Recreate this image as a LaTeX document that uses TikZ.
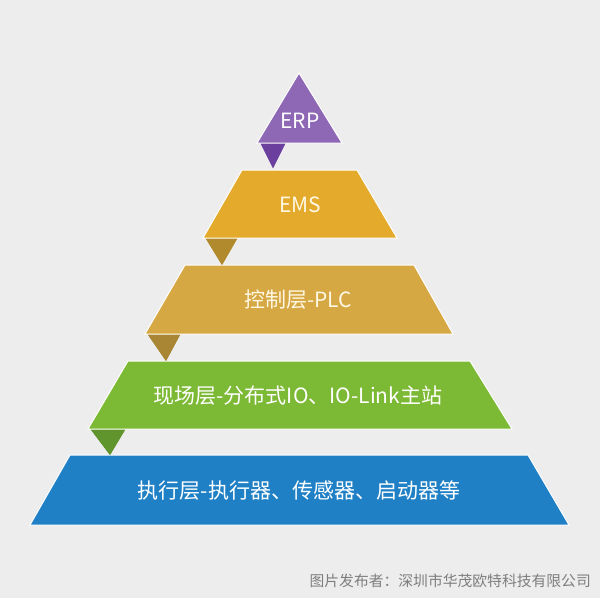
\documentclass[tikz,border=0pt]{standalone}
\usepackage{fontspec}
\newfontfamily\cjk{Noto Sans CJK SC}
\definecolor{bg}{HTML}{EDEDED}
\definecolor{erpc}{HTML}{8E67B5}
\definecolor{erpf}{HTML}{6A3F9E}
\definecolor{emsc}{HTML}{E3AA2C}
\definecolor{emsf}{HTML}{B08A2C}
\definecolor{plcc}{HTML}{D6A843}
\definecolor{plcf}{HTML}{A98633}
\definecolor{grnc}{HTML}{7CB934}
\definecolor{grnf}{HTML}{5F952C}
\definecolor{bluc}{HTML}{1F80C6}
\definecolor{cream}{HTML}{FFF8E4}
\definecolor{wm}{HTML}{7E7E7E}
\tikzset{
  layer/.style={draw=white, line width=1pt, line join=miter},
  flap/.style={draw=none},
  lbl/.style={font=\cjk\fontsize{21}{24}\selectfont, inner sep=0pt},
}
\begin{document}
\begin{tikzpicture}[x=1pt,y=-1pt]
\useasboundingbox (0,0) rectangle (600,598);
\fill[bg] (0,0) rectangle (600,598);
% flaps (drawn first so layers sit above)
\fill[flap,erpf] (260,142) -- (286,142) -- (273,168) -- cycle;
\fill[flap,emsf] (205,237) -- (238,237) -- (222,265) -- cycle;
\fill[flap,plcf] (147,333) -- (181,333) -- (166,361) -- cycle;
\fill[flap,grnf] (90,428) -- (126,428) -- (110,455) -- cycle;
% layers
\filldraw[layer,fill=erpc] (299,73) -- (342,143) -- (257,143) -- cycle;
\filldraw[layer,fill=emsc] (242,170) -- (357,170) -- (397,238) -- (203,238) -- cycle;
\filldraw[layer,fill=plcc] (185,265) -- (414,265) -- (453,334) -- (145,334) -- cycle;
\filldraw[layer,fill=grnc] (128,361) -- (470,361) -- (512,429) -- (88,429) -- cycle;
\filldraw[layer,fill=bluc] (70,455) -- (528,455) -- (569,525) -- (30,525) -- cycle;
% flap re-fill over outlines
\fill[flap,erpf] (261,144) -- (285,144) -- (273,168) -- cycle;
\fill[flap,emsf] (206,239) -- (237,239) -- (222,265) -- cycle;
\fill[flap,plcf] (148,335) -- (180,335) -- (166,361) -- cycle;
\fill[flap,grnf] (91,430) -- (125,430) -- (110,455) -- cycle;
% labels
\node[lbl,text=white] (erp) at (300,121) {ERP};
\node[lbl,text=cream] (ems) at (300,205) {EMS};
\node[lbl,text=cream] (plc) at (298,300) {控制层-PLC};
\node[lbl,text=white] (fld) at (298,396) {现场层-分布式IO、IO-Link主站};
\node[lbl,text=white] (act) at (299,491) {执行层-执行器、传感器、启动器等};
\node[font=\cjk\fontsize{14.8}{16}\selectfont, text=wm, anchor=east, inner sep=0pt] (wmk) at (591,581) {图片发布者：深圳市华茂欧特科技有限公司};
\end{tikzpicture}
\end{document}
